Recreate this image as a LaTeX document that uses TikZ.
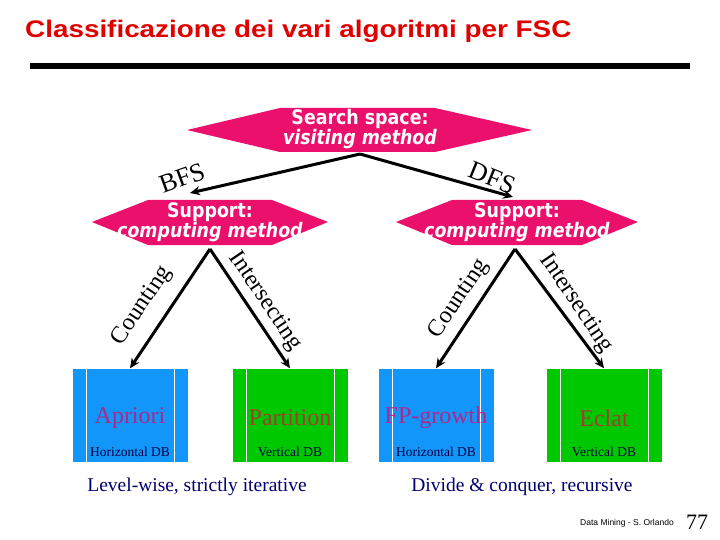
\documentclass[tikz,border=0pt]{standalone}
\usepackage{fontspec}
\setmainfont{Liberation Serif}
\newfontfamily\titlefont{Liberation Sans}
\newfontfamily\hexfont{DejaVu Sans}
\usetikzlibrary{arrows.meta}
\definecolor{hexpink}{RGB}{234,16,108}
\definecolor{dbblue}{RGB}{18,150,250}
\definecolor{dbgreen}{RGB}{0,200,0}
\definecolor{algmagenta}{RGB}{172,40,140}
\definecolor{algbrown}{RGB}{165,60,50}
\definecolor{titlered}{RGB}{225,0,0}
\definecolor{darknavy}{RGB}{0,0,110}
\tikzset{
  hexfill/.style={fill=hexpink},
  hextext/.style={text=white, align=center, xscale=0.87,
    font=\hexfont\bfseries\fontsize{20}{17}\selectfont},
  branch/.style={line width=3pt, -{Stealth[length=10pt,width=9pt]}},
  edgelabel/.style={font=\fontsize{24}{24}\selectfont, inner sep=0pt},
  dbbox/.style={minimum width=115pt, minimum height=93pt, inner sep=0pt},
  algname/.style={font=\fontsize{24}{24}\selectfont, inner sep=0pt},
  dbname/.style={font=\fontsize{13.5}{13.5}\selectfont, inner sep=0pt},
  comment/.style={text=darknavy, font=\fontsize{19.5}{19.5}\selectfont}
}
\begin{document}
\begin{tikzpicture}[x=1pt, y=-1pt]
 \useasboundingbox (0,0) rectangle (720,540);
 % title
 \node[anchor=base west, text=titlered, inner sep=0pt, xscale=1.16,
   font=\titlefont\bfseries\fontsize{24}{24}\selectfont] (title) at (25,38)
   {Classificazione dei vari algoritmi per FSC};
 \fill[black] (30,63) rectangle (690,69);
 % search space
 \path[hexfill] (187,130) -- (280,108) -- (435,108) -- (532,130) -- (435,152) -- (280,152) -- cycle;
 \node[hextext] (search) at (360,129) {Search space:\\\textit{visiting method}};
 \coordinate (searchapex) at (360,154);
 % support
 \path[hexfill] (92,222) -- (148,200) -- (272,200) -- (328,222) -- (272,245) -- (148,245) -- cycle;
 \node[hextext] (suppL) at (210,222) {Support:\\\textit{computing method}};
 \coordinate (suppLapex) at (210,249);
 \path[hexfill] (396,222) -- (452,200) -- (582,200) -- (638,222) -- (582,245) -- (452,245) -- cycle;
 \node[hextext] (suppR) at (517,222) {Support:\\\textit{computing method}};
 \coordinate (suppRapex) at (515,249);
 % algorithms
 \foreach \name/\x/\col/\txt/\tcol/\db in {apriori/130/dbblue/Apriori/algmagenta/Horizontal DB,
     partition/290/dbgreen/Partition/algbrown/Vertical DB,
     fpgrowth/436/dbblue/FP-growth/algmagenta/Horizontal DB,
     eclat/604/dbgreen/Eclat/algbrown/Vertical DB}{
   \node[dbbox, fill=\col] (\name) at (\x,415) {};
   \draw[white, line width=1pt] (\x-44,369) -- (\x-44,462) (\x+44,369) -- (\x+44,462);
   \node[algname, text=\tcol] at (\x,418) {\txt};
   \node[dbname, text=darknavy!60!black] at (\x,452) {\db};
 }
 % branches
 \draw[branch] (searchapex) -- (190,193);
 \draw[branch] (searchapex) -- (513,197);
 \draw[branch] (suppLapex) -- (apriori.north);
 \draw[branch] (suppLapex) -- (partition.north);
 \draw[branch] (suppRapex) -- (fpgrowth.north);
 \draw[branch] (suppRapex) -- (eclat.north);
 \node[edgelabel, font=\fontsize{26}{26}\selectfont, rotate=20] (bfs) at (182,178) {BFS};
 \node[edgelabel, font=\fontsize{26}{26}\selectfont, rotate=-22] (dfs) at (492,178) {DFS};
 \node[edgelabel, rotate=56] (cntL) at (142,306) {Counting};
 \node[edgelabel, rotate=-56] (intL) at (265,301) {Intersecting};
 \node[edgelabel, rotate=56] (cntR) at (459,299) {Counting};
 \node[edgelabel, rotate=-56] (intR) at (576,303) {Intersecting};
 % remarks
 \node[comment] (levelwise) at (197,487) {Level-wise, strictly iterative};
 \node[comment] (divide) at (522,487) {Divide \& conquer, recursive};
 \node[font=\titlefont\fontsize{8.5}{8.5}\selectfont] (author) at (627,523) {Data Mining - S. Orlando};
 \node[font=\fontsize{22}{22}\selectfont] (page) at (697,522) {77};
\end{tikzpicture}
\end{document}
